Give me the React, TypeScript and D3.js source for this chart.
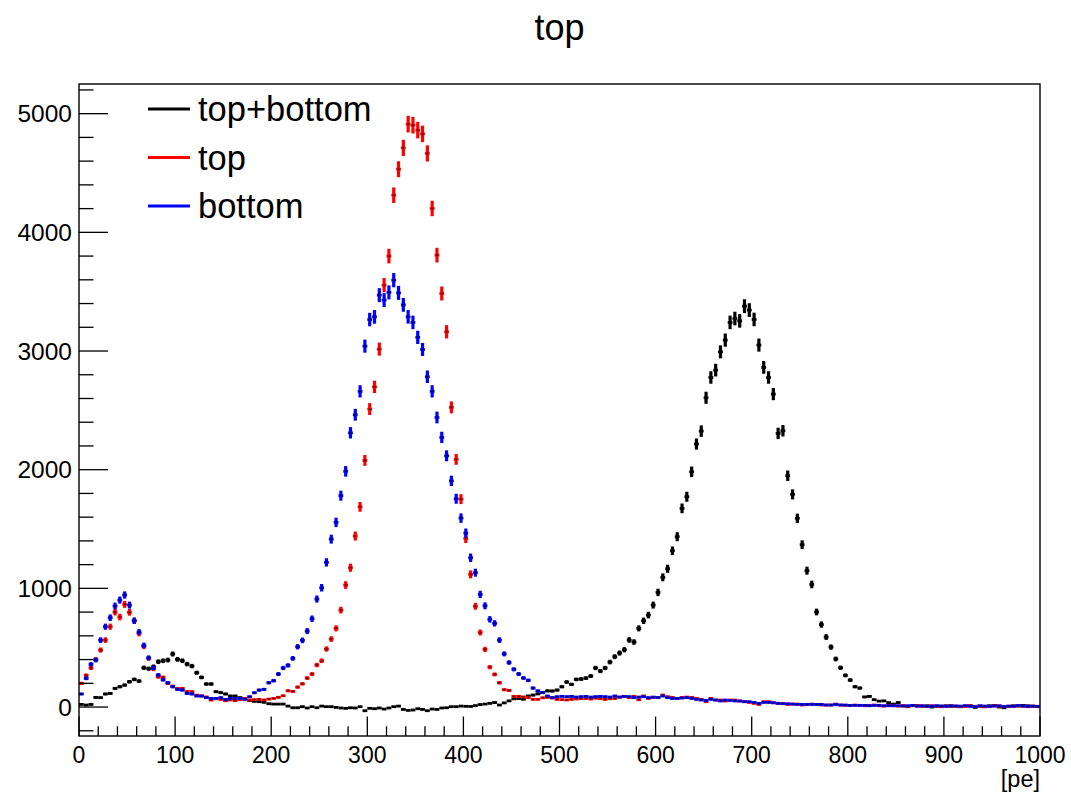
import React from "react";
import * as d3 from "d3";

// Histogram: 200 bins of 5 pe each, from 0 to 1000 pe
const BIN_WIDTH = 5;
const X_MIN = 0;
const X_MAX = 1000;

// top+bottom
const topBottom = [
  22, 17, 22, 81, 79, 110, 115, 157, 171, 185,
  213, 233, 219, 331, 323, 340, 382, 390, 396, 447,
  402, 390, 362, 345, 289, 250, 194, 194, 129, 121,
  110, 93, 93, 79, 73, 55, 48, 45, 40, 28,
  25, 25, 25, 8, -6, -6, 3, -8, 3, -6,
  8, 3, 3, -3, -8, -11, -6, -8, 3, -31,
  -11, -14, -8, -17, -8, 3, 8, -20, -28, -25,
  -14, -20, -31, -17, -20, -8, -6, 3, 3, 8,
  6, 5, 12, 21, 25, 31, 38, 17, 35, 52,
  69, 72, 66, 93, 101, 111, 121, 136, 135, 143,
  171, 211, 191, 233, 236, 244, 261, 329, 303, 329,
  379, 424, 455, 483, 565, 548, 663, 727, 775, 859,
  966, 1093, 1165, 1317, 1435, 1674, 1772, 1982, 2216, 2325,
  2606, 2777, 2839, 2993, 3092, 3241, 3274, 3254, 3378, 3345,
  3266, 3050, 2862, 2777, 2637, 2306, 2328, 1949, 1792, 1590,
  1368, 1149, 1033, 801, 695, 590, 505, 405, 331, 267,
  227, 171, 160, 85, 90, 62, 50, 52, 37, 25,
  38, 11, 3, 14, 8, 6, 11, 0, 6, 8,
  11, 6, 8, 3, 8, 11, -3, 6, 3, 11,
  14, 0, -6, 6, 11, 8, 14, 11, 6, 3,
];

// top
const topOnly = [
  199, 267, 330, 402, 480, 564, 677, 800, 758, 865,
  798, 727, 620, 510, 410, 320, 255, 250, 200, 175,
  155, 157, 130, 129, 100, 93, 85, 59, 70, 65,
  53, 60, 55, 62, 70, 60, 62, 65, 60, 67,
  73, 82, 95, 137, 132, 168, 196, 244, 278, 354,
  390, 489, 573, 663, 817, 1028, 1174, 1441, 1687, 2078,
  2511, 2698, 3016, 3555, 3800, 4313, 4532, 4712, 4912, 4903,
  4861, 4830, 4665, 4201, 3808, 3485, 3162, 2525, 2087, 1752,
  1420, 1118, 849, 628, 486, 336, 275, 205, 146, 140,
  90, 90, 85, 80, 65, 65, 78, 82, 76, 65,
  62, 60, 65, 68, 70, 72, 68, 75, 70, 65,
  70, 72, 84, 90, 79, 90, 62, 93, 73, 81,
  81, 101, 87, 81, 73, 81, 84, 81, 73, 65,
  45, 73, 59, 59, 51, 59, 59, 51, 45, 39,
  31, 22, 45, 45, 36, 31, 31, 22, 25, 25,
  17, 22, 25, 22, 17, 17, 17, 25, 17, 14,
  14, 17, 14, 11, 14, 17, 11, 8, 14, 11,
  8, 11, 6, 11, 14, 8, 6, 11, 8, 3,
  8, 11, 6, 3, 8, 11, 6, 8, 3, 6,
  11, 8, 3, 6, 8, 11, 6, 3, 8, 6,
];

// bottom
const bottomOnly = [
  110, 242, 360, 396, 564, 677, 753, 851, 901, 944,
  859, 727, 632, 520, 415, 330, 270, 230, 205, 171,
  149, 143, 115, 110, 93, 93, 79, 73, 73, 79,
  65, 73, 73, 73, 65, 87, 120, 143, 149, 205,
  222, 278, 329, 351, 410, 508, 562, 640, 744, 910,
  1005, 1219, 1415, 1556, 1781, 1986, 2311, 2463, 2660, 3041,
  3265, 3288, 3471, 3429, 3494, 3597, 3490, 3389, 3288, 3241,
  3115, 3013, 2783, 2660, 2440, 2272, 2117, 1906, 1755, 1592,
  1466, 1258, 1132, 949, 853, 739, 705, 564, 448, 375,
  318, 278, 245, 225, 160, 136, 122, 93, 79, 87,
  90, 87, 90, 84, 87, 90, 84, 87, 90, 87,
  84, 93, 84, 90, 87, 79, 84, 87, 79, 84,
  79, 93, 79, 73, 73, 76, 79, 73, 65, 59,
  56, 65, 59, 51, 59, 56, 51, 51, 45, 45,
  39, 31, 39, 39, 36, 31, 28, 28, 25, 22,
  22, 22, 22, 22, 22, 17, 17, 22, 17, 17,
  14, 14, 14, 14, 11, 14, 14, 11, 11, 11,
  11, 8, 11, 14, 8, 11, 6, 8, 11, 8,
  6, 11, 8, 8, 11, 6, 3, 11, 8, 6,
  8, 11, 3, 8, 6, 14, 8, 6, 8, 6,
];

const seriesNames = ["top+bottom", "top", "bottom"];
const seriesColors = ["#000000", "#ff0000", "#0000ff"];
const seriesValues = [topBottom, topOnly, bottomOnly];

const xMajorTicks = [0, 100, 200, 300, 400, 500, 600, 700, 800, 900, 1000];
const yMajorTicks = [0, 1000, 2000, 3000, 4000, 5000];

const TITLE = "top";
const X_UNIT = "[pe]";

const W = 1071;
const H = 797;
const FRAME = { left: 79, right: 1040, top: 84, bottom: 736 };
const FONT = "'Liberation Sans', Arial, Helvetica, sans-serif";

export default function App() {
  const x = d3.scaleLinear().domain([X_MIN, X_MAX]).range([FRAME.left, FRAME.right]);
  const y = d3.scaleLinear().domain([-244, 5250]).range([FRAME.bottom, FRAME.top]);

  const xMinor = d3.range(X_MIN, X_MAX + 1, 20).filter((v) => v % 100 !== 0);
  const yMinor = d3.range(-200, 5250, 200).filter((v) => v % 1000 !== 0);

  const xTickLen = 19.5;
  const yTickLen = 29;

  return (
    <svg
      width={W}
      height={H}
      style={{ position: "absolute", left: 0, top: 0, background: "#fff" }}
      fontFamily={FONT}
    >
      <rect x={0} y={0} width={W} height={H} fill="#fff" />

      {/* data: horizontal bin bars + vertical Poisson error bars */}
      {seriesValues.map((vals, s) => (
        <g key={seriesNames[s]} stroke={seriesColors[s]} fill="none">
          {vals.map((v, i) => {
            const lo = X_MIN + i * BIN_WIDTH;
            const cx = x(lo + BIN_WIDTH / 2);
            const err = Math.sqrt(Math.abs(v));
            const yv = y(v);
            return (
              <g key={i}>
                <line x1={x(lo)} x2={x(lo + BIN_WIDTH)} y1={yv} y2={yv} strokeWidth={2.8} />
                <line x1={cx} x2={cx} y1={y(v - err)} y2={y(v + err)} strokeWidth={3.2} />
                <rect x={cx - 0.75} y={yv - 0.75} width={1.5} height={1.5} fill="#000" stroke="none" />
              </g>
            );
          })}
        </g>
      ))}

      {/* frame */}
      <rect
        x={FRAME.left}
        y={FRAME.top}
        width={FRAME.right - FRAME.left}
        height={FRAME.bottom - FRAME.top}
        fill="none"
        stroke="#000"
        strokeWidth={1.4}
      />

      {/* axis ticks */}
      <g stroke="#000" strokeWidth={1.3}>
        {xMajorTicks.map((t) => (
          <line key={"xM" + t} x1={x(t)} x2={x(t)} y1={FRAME.bottom} y2={FRAME.bottom - xTickLen} />
        ))}
        {xMinor.map((t) => (
          <line key={"xm" + t} x1={x(t)} x2={x(t)} y1={FRAME.bottom} y2={FRAME.bottom - xTickLen / 2} />
        ))}
        {yMajorTicks.map((t) => (
          <line key={"yM" + t} x1={FRAME.left} x2={FRAME.left + yTickLen} y1={y(t)} y2={y(t)} />
        ))}
        {yMinor.map((t) => (
          <line key={"ym" + t} x1={FRAME.left} x2={FRAME.left + yTickLen / 2} y1={y(t)} y2={y(t)} />
        ))}
      </g>

      {/* tick labels */}
      <g fill="#000">
        {xMajorTicks.map((t) => (
          <text key={"xl" + t} x={x(t)} y={763} textAnchor="middle" fontSize={23}>
            {t}
          </text>
        ))}
        {yMajorTicks.map((t) => (
          <text key={"yl" + t} x={72} y={y(t) + 8.8} textAnchor="end" fontSize={24.5}>
            {t}
          </text>
        ))}
      </g>

      <text x={FRAME.right} y={787} textAnchor="end" fontSize={23.5}>
        {X_UNIT}
      </text>

      {/* title */}
      <text x={(FRAME.left + FRAME.right) / 2} y={40} textAnchor="middle" fontSize={36}>
        {TITLE}
      </text>

      {/* legend */}
      {seriesNames.map((name, s) => {
        const ly = 109 + s * 48.5;
        return (
          <g key={"lg" + name}>
            <line x1={148} x2={190} y1={ly} y2={ly} stroke={seriesColors[s]} strokeWidth={3} />
            <text x={198} y={ly + 12} fontSize={34.5} fill="#000">
              {name}
            </text>
          </g>
        );
      })}
    </svg>
  );
}
